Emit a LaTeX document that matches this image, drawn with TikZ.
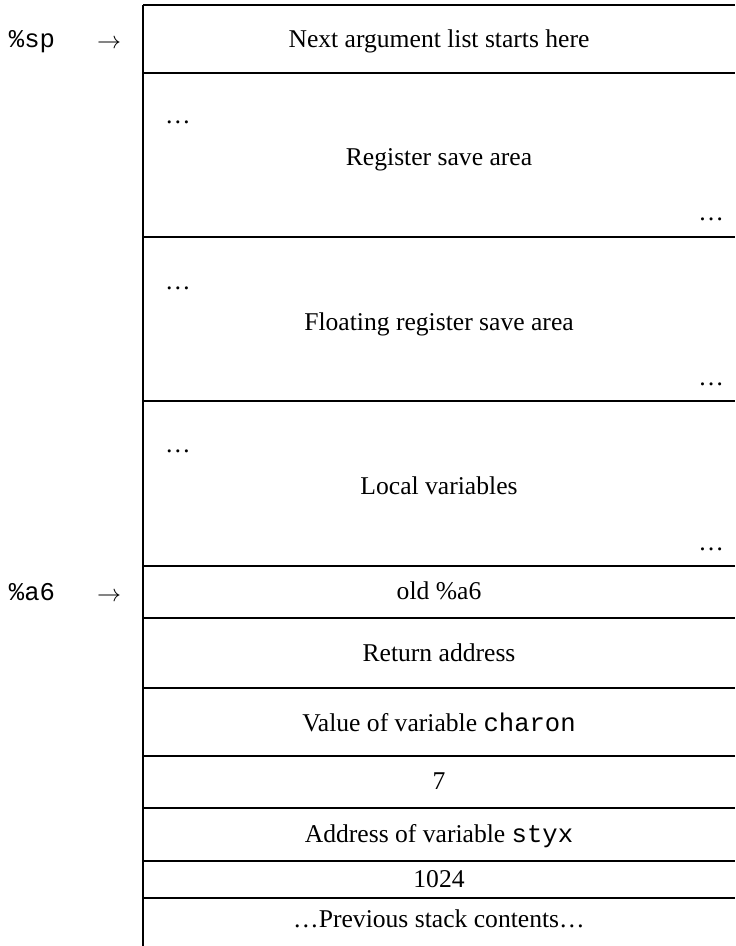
\documentclass[tikz,border=0pt]{standalone}
\usepackage{fontspec}
\setmainfont{Liberation Serif}
\setmonofont{Liberation Mono}
\begin{document}
\begin{tikzpicture}[x=0.5pt,y=-0.5pt,line width=1pt,
  txt/.style={font=\fontsize{12.8}{15}\selectfont, inner sep=0pt, text height=0.7em, text depth=0.2em},
  rule/.style={line width=1pt}]
\useasboundingbox (0,0) rectangle (735,946);
% frame
\draw[rule] (143,5) -- (143,946);
\foreach \y in {5,73,237,401,566,618,688,756,808,861,898}
  \draw[rule] (143,\y) -- (735,\y);
% pointer labels
\node[txt] (sp) at (32,43) {\texttt{\%sp}};
\node[txt] (sparrow) at (109,44) {$\rightarrow$};
\node[txt] (a6) at (32,595) {\texttt{\%a6}};
\node[txt] (a6arrow) at (109,596) {$\rightarrow$};
% cells
\node[txt] (next) at (439,43) {Next argument list starts here};
\node[txt,anchor=west] (rl) at (164,119) {\dots};
\node[txt] (reg) at (439,161) {Register save area};
\node[txt,anchor=east] (rr) at (725,216) {\dots};
\node[txt,anchor=west] (fl) at (164,285) {\dots};
\node[txt] (flt) at (439,325) {Floating register save area};
\node[txt,anchor=east] (fr) at (725,380) {\dots};
\node[txt,anchor=west] (ll) at (164,447) {\dots};
\node[txt] (loc) at (439,489) {Local variables};
\node[txt,anchor=east] (lr) at (725,545) {\dots};
\node[txt] (olda6) at (439,594) {old \%a6};
\node[txt] (ret) at (439,656) {Return address};
\node[txt] (charon) at (439,726) {Value of variable \texttt{charon}};
\node[txt] (seven) at (439,784) {7};
\node[txt] (styx) at (439,837) {Address of variable \texttt{styx}};
\node[txt] (k1024) at (439,882) {1024};
\node[txt] (prev) at (439,922) {\dots Previous stack contents\dots};
\end{tikzpicture}
\end{document}
